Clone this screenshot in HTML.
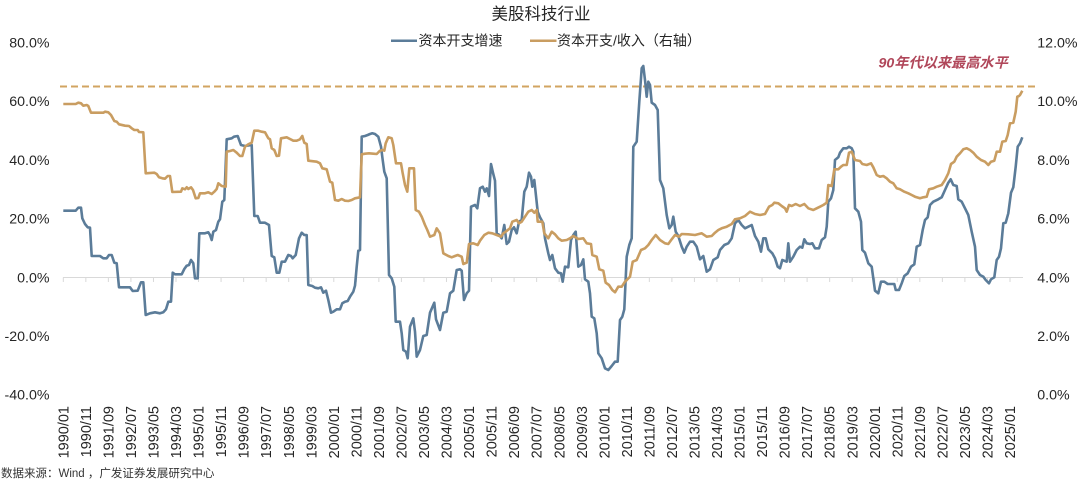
<!DOCTYPE html>
<html><head><meta charset="utf-8">
<style>
html,body{margin:0;padding:0;background:#fff;}
svg{display:block;}
text{font-family:"Liberation Sans","Noto Sans CJK SC",sans-serif;fill:#262626;}
</style></head>
<body>
<svg width="1080" height="482" viewBox="0 0 1080 482" xmlns="http://www.w3.org/2000/svg">
<rect width="1080" height="482" fill="#fff"/>
<!-- title -->
<text x="541" y="19.5" font-size="16.5" text-anchor="middle">美股科技行业</text>
<!-- legend -->
<line x1="391" y1="40.7" x2="417" y2="40.7" stroke="#5b7c99" stroke-width="2.5"/>
<text x="418.5" y="45.3" font-size="14">资本开支增速</text>
<line x1="530" y1="40.7" x2="556.5" y2="40.7" stroke="#c99d61" stroke-width="2.5"/>
<text x="557" y="45.3" font-size="14">资本开支/收入（右轴）</text>

<!-- left axis labels -->
<g font-size="14.2" text-anchor="end">
<text x="49.5" y="47.5">80.0%</text>
<text x="49.5" y="106.2">60.0%</text>
<text x="49.5" y="164.9">40.0%</text>
<text x="49.5" y="223.6">20.0%</text>
<text x="49.5" y="282.3">0.0%</text>
<text x="49.5" y="341">-20.0%</text>
<text x="49.5" y="399.7">-40.0%</text>
</g>
<!-- right axis labels -->
<g font-size="14.2" text-anchor="start">
<text x="1037.3" y="47.5">12.0%</text>
<text x="1037.3" y="106.2">10.0%</text>
<text x="1037.3" y="164.9">8.0%</text>
<text x="1037.3" y="223.6">6.0%</text>
<text x="1037.3" y="282.3">4.0%</text>
<text x="1037.3" y="341">2.0%</text>
<text x="1037.3" y="399.7">0.0%</text>
</g>

<!-- zero axis line + ticks -->
<line x1="63" y1="277.5" x2="1023" y2="277.5" stroke="#d9d9d9" stroke-width="1"/>
<path d="M63.3 277.5v4.5M85.84 277.5v4.5M108.38 277.5v4.5M130.92 277.5v4.5M153.46 277.5v4.5M176 277.5v4.5M198.54 277.5v4.5M221.08 277.5v4.5M243.62 277.5v4.5M266.16 277.5v4.5M288.7 277.5v4.5M311.24 277.5v4.5M333.78 277.5v4.5M356.32 277.5v4.5M378.86 277.5v4.5M401.4 277.5v4.5M423.94 277.5v4.5M446.48 277.5v4.5M469.02 277.5v4.5M491.56 277.5v4.5M514.1 277.5v4.5M536.64 277.5v4.5M559.18 277.5v4.5M581.72 277.5v4.5M604.26 277.5v4.5M626.8 277.5v4.5M649.34 277.5v4.5M671.88 277.5v4.5M694.42 277.5v4.5M716.96 277.5v4.5M739.5 277.5v4.5M762.04 277.5v4.5M784.58 277.5v4.5M807.12 277.5v4.5M829.66 277.5v4.5M852.2 277.5v4.5M874.74 277.5v4.5M897.28 277.5v4.5M919.82 277.5v4.5M942.36 277.5v4.5M964.9 277.5v4.5M987.44 277.5v4.5M1009.98 277.5v4.5" stroke="#d9d9d9" stroke-width="1" fill="none"/>

<!-- x labels -->
<g font-size="14.5" text-anchor="end">
<text transform="translate(63.3,406) rotate(-90)" dy="0.35em">1990/01</text>
<text transform="translate(85.84,406) rotate(-90)" dy="0.35em">1990/11</text>
<text transform="translate(108.38,406) rotate(-90)" dy="0.35em">1991/09</text>
<text transform="translate(130.92,406) rotate(-90)" dy="0.35em">1992/07</text>
<text transform="translate(153.46,406) rotate(-90)" dy="0.35em">1993/05</text>
<text transform="translate(176,406) rotate(-90)" dy="0.35em">1994/03</text>
<text transform="translate(198.54,406) rotate(-90)" dy="0.35em">1995/01</text>
<text transform="translate(221.08,406) rotate(-90)" dy="0.35em">1995/11</text>
<text transform="translate(243.62,406) rotate(-90)" dy="0.35em">1996/09</text>
<text transform="translate(266.16,406) rotate(-90)" dy="0.35em">1997/07</text>
<text transform="translate(288.7,406) rotate(-90)" dy="0.35em">1998/05</text>
<text transform="translate(311.24,406) rotate(-90)" dy="0.35em">1999/03</text>
<text transform="translate(333.78,406) rotate(-90)" dy="0.35em">2000/01</text>
<text transform="translate(356.32,406) rotate(-90)" dy="0.35em">2000/11</text>
<text transform="translate(378.86,406) rotate(-90)" dy="0.35em">2001/09</text>
<text transform="translate(401.4,406) rotate(-90)" dy="0.35em">2002/07</text>
<text transform="translate(423.94,406) rotate(-90)" dy="0.35em">2003/05</text>
<text transform="translate(446.48,406) rotate(-90)" dy="0.35em">2004/03</text>
<text transform="translate(469.02,406) rotate(-90)" dy="0.35em">2005/01</text>
<text transform="translate(491.56,406) rotate(-90)" dy="0.35em">2005/11</text>
<text transform="translate(514.1,406) rotate(-90)" dy="0.35em">2006/09</text>
<text transform="translate(536.64,406) rotate(-90)" dy="0.35em">2007/07</text>
<text transform="translate(559.18,406) rotate(-90)" dy="0.35em">2008/05</text>
<text transform="translate(581.72,406) rotate(-90)" dy="0.35em">2009/03</text>
<text transform="translate(604.26,406) rotate(-90)" dy="0.35em">2010/01</text>
<text transform="translate(626.8,406) rotate(-90)" dy="0.35em">2010/11</text>
<text transform="translate(649.34,406) rotate(-90)" dy="0.35em">2011/09</text>
<text transform="translate(671.88,406) rotate(-90)" dy="0.35em">2012/07</text>
<text transform="translate(694.42,406) rotate(-90)" dy="0.35em">2013/05</text>
<text transform="translate(716.96,406) rotate(-90)" dy="0.35em">2014/03</text>
<text transform="translate(739.5,406) rotate(-90)" dy="0.35em">2015/01</text>
<text transform="translate(762.04,406) rotate(-90)" dy="0.35em">2015/11</text>
<text transform="translate(784.58,406) rotate(-90)" dy="0.35em">2016/09</text>
<text transform="translate(807.12,406) rotate(-90)" dy="0.35em">2017/07</text>
<text transform="translate(829.66,406) rotate(-90)" dy="0.35em">2018/05</text>
<text transform="translate(852.2,406) rotate(-90)" dy="0.35em">2019/03</text>
<text transform="translate(874.74,406) rotate(-90)" dy="0.35em">2020/01</text>
<text transform="translate(897.28,406) rotate(-90)" dy="0.35em">2020/11</text>
<text transform="translate(919.82,406) rotate(-90)" dy="0.35em">2021/09</text>
<text transform="translate(942.36,406) rotate(-90)" dy="0.35em">2022/07</text>
<text transform="translate(964.9,406) rotate(-90)" dy="0.35em">2023/05</text>
<text transform="translate(987.44,406) rotate(-90)" dy="0.35em">2024/03</text>
<text transform="translate(1009.98,406) rotate(-90)" dy="0.35em">2025/01</text>
</g>

<!-- dashed reference line -->
<line x1="60" y1="86.5" x2="1039" y2="86.5" stroke="#d2a461" stroke-width="2" stroke-dasharray="7 4"/>
<text x="878.5" y="67.5" font-size="14.2" font-weight="bold" font-style="italic" style="fill:#b0475a">90年代以来最高水平</text>

<!-- blue series -->
<polyline fill="none" stroke="#5b7c99" stroke-width="2.6" stroke-linejoin="round" points="63.3,210.7 75.7,210.7 78.3,207.7 81,207.7 82.3,218.3 85,224 87.7,227.3 90,227.7 91.7,256 100,256 103.3,258.3 106.7,258.3 109,255 111.7,255 114.3,262.7 116.7,263.3 119,287.3 130,287.3 132.7,291 137.7,290.7 141,282.3 143.3,282.3 145.7,315 150,313.3 155,312.3 160,313.3 163.3,312.3 166,309.3 168.3,301.7 171,301.7 172.7,272.7 175,274.3 181.7,274.3 184.3,269 186.7,265.7 189,265 191,260 193.3,263.3 195,278.3 197.7,278.3 199.3,233.3 205,233.3 208.3,232.3 210,235 211.7,240 213.3,231.7 216,230 218.3,221.7 220,219.3 222.3,201.7 224.3,200 226.7,139.3 231.7,138.3 234,136.7 237.7,136 241,145 245,146 251.7,145 254.3,216 257.7,216 260,222.7 265,222.7 269,225 271.7,256 274.3,257.3 276.7,272.7 279.3,272.7 281.7,261.7 285,261.7 288.3,255 291,256 292.7,258.3 295.7,255 299,238.3 301.7,232.7 304.3,235 306.7,235 308.3,285 312.3,286 315,287.7 318.3,288.3 321,287.3 323.3,292.7 326,290.7 328.3,300 331,312.7 333.3,311.7 336.7,309.3 340,309.3 342.3,303.3 345,301.7 347.7,301 350,296.7 353.3,291.7 355,285.7 356.7,266.7 358.3,250.7 360,250 361.7,136.7 365,136 367.7,135 370,134 372.3,133.3 375,134 378.3,136.7 381,146.7 382.7,160 384.3,171.7 386.7,178.3 389,275 391.7,278.3 394.3,286.7 395.7,321.7 400,321.7 401.7,333.3 403.3,350 406,351.7 407.7,358.3 410,326.7 413.3,318.3 415,331.7 416.7,356.7 420,350 423.3,336 426.7,335 430,312.7 434.3,302.7 436,319.3 440,330 443.3,312.7 446.7,311.7 450,293.3 453.3,290.7 456.7,270 460,269.3 461.7,270.7 464,300 466.7,293.3 469,290.7 471,206.7 475,205 477.3,208.3 480,188.3 482.7,186.7 485,191.7 486.7,188.3 489,196 491,164 493.3,174 495,180.7 496.7,233.3 499.3,235 501.7,238.3 504.3,225 506.7,244 509,241.7 511.7,230 514,227.3 516.7,233.3 519,221.7 521.7,220 524.3,191.7 526.7,186.7 529,172.7 531,176.7 532.3,186.7 534.3,180 537.7,211.7 540,217.3 543.3,223.3 545,238.3 548.3,253.3 550,260 552.3,255 555,268.3 558.3,272.7 561,273.3 562.7,281.7 565,266.7 568.3,267.3 571,240 573.3,235 575.7,231.7 578.3,266.7 581,265 583.3,259.3 585,279.3 588.3,281.7 590,293.3 591.7,316.7 594.3,318.3 596.7,333.3 598.3,353.3 601.7,358.3 605,368.3 608.3,370 611.7,366 615,361.7 617.7,361.7 620,320 622.3,316.7 624.3,309.3 626.7,256.7 629.3,245 631.7,238.3 633.3,146.7 636.7,141.7 639.3,101.7 641.7,68.3 643.3,66 645,80 646.7,96.7 648.3,81.7 650,85 651.7,102.7 655,105 657.7,110 660,180 663.3,188.3 666.7,215 669.3,228.3 671.7,225 673.3,216.7 675.7,231.7 678.3,236 681.7,246.7 684.3,252.7 686.7,246.7 690,241.7 693.3,241.7 696.7,246.7 700,259.3 703.3,256 706.7,271.7 710,269.3 713.3,260 717.7,257.3 720,250 724.3,245 728.3,243.3 731.7,238.3 735,223.3 738.3,220 741.7,225 745,228.3 748.3,226.7 751.7,225 755,236 758.3,241.7 761,251.7 763.3,238.3 765.7,238.3 768.3,249.3 772.3,253.3 775,258.3 777.7,266.7 780,268.3 782.3,260 786.7,261.7 788.3,243.3 790,261.7 793.3,256.7 796.7,250 800,246.7 802.3,247.7 804.3,239.3 806.7,243.3 810,244 812.3,243.3 815,248.3 819,248.3 821.7,240 825,237.3 826.7,226.7 828.3,201.7 831,198.3 833.3,190 835,160 838.3,157.3 840,152.7 843.3,148.3 846.7,148.3 849,146.7 851.7,148.3 853.3,151.7 855,208.3 858.3,211.7 861,221.7 862.3,250 865,252.7 868.3,263.3 871.7,266.7 875,290.7 878.3,293.3 881,281.7 884.3,281.7 887.7,284 891.7,284 894.3,284 895.7,290 899,290 901.7,283.3 904.3,276 907.7,273.3 911,266.7 914.3,264.3 916.7,246.7 920,245 922.7,230 925,220 927.7,217.3 930,205 933.3,201.7 938.3,199.3 941.7,197.3 945,190 948.3,182.7 950.7,179.3 953.3,185 956.7,186 958.3,199.3 961.7,201.7 965,208.3 968.3,215 971.7,231.7 975,246.7 976.7,270 980,275 983.3,276.7 985.7,280 989,283.3 991,279.3 994.3,277.3 996.7,260 999,256.7 1001,248.3 1003.3,223.3 1005.7,222.7 1008.3,213.3 1011,192.7 1013.3,187.3 1015.7,166.7 1017.7,146.7 1020,143.3 1022.3,137.3"/>

<!-- orange series -->
<polyline fill="none" stroke="#c99d61" stroke-width="2.6" stroke-linejoin="round" points="63.3,104 75.7,104 78.3,102.7 81,103.3 83.3,105.7 86.7,105 88.3,106 91,112.7 103.3,112.7 105,111.7 108.3,112.3 111,115 114.3,121 116.7,121.7 119,124.3 125,125.7 129,126 131.7,128.3 134.3,130 137.7,130 139,132 143.3,132.3 145.7,173.3 154.3,172.7 156.7,174 159,177.3 162.3,178.3 165,178.7 167.7,176 170,176 172.3,192 181,191.7 182.3,188.3 185,189.3 186.7,187.3 188.3,189 191,187.3 193,190 195.7,198.3 198.3,198 200,193.3 205,193.3 208.3,192.3 211.7,194 214.3,191.7 216.7,189 218.3,183.3 221.7,186 225.7,186.7 226.7,151.7 230,151 233.3,150 236.7,152.7 240,156 242.3,156 245,146.7 248.3,144.3 251.7,142.7 254.3,130.7 258.3,130.7 261.7,131.7 265,132.3 268.3,138.3 270,139.3 271.7,148.3 274.3,150 276.7,156 279,155.7 281,138.3 286.7,137.3 290,139 293.3,140.7 296.7,140.7 300,139.3 302.3,136 304.3,142.7 306.7,144 308.3,160.7 316.7,161.7 320,163.3 322.3,168.3 326.7,169.3 330,181.7 332.3,182.7 335,200 338.3,200.7 341.7,199 345,200.7 348.3,201 351.7,200 355,198.3 360,197.3 361.7,154.3 365,153.7 369,153.3 373.3,153.7 376.7,154 380,150.7 382.3,150 384.3,150.7 385.7,143.3 388.3,137.3 391.7,138.3 393.3,145 396,163.3 401,163.3 402.7,173.3 405,185 407.3,191.7 409.3,168.3 414,168.3 415.7,210 419,211.7 421.7,216.7 425,225 427.3,230 430,236.7 434.3,235 436.7,228.3 440,233.3 443.3,253.3 448.3,256 451.7,257.3 455,256 457.7,255 461.7,256.7 463.3,264 466.7,262.7 469,244 473.3,243.3 477.7,245 480,240.7 484.3,235 488.3,232.7 492.3,233.3 496.7,235 501,236.7 503.3,233.3 505.7,231.7 510,228.3 512.3,221.7 516.7,220 519,223.3 521.7,221.7 525,216.7 528.3,211.7 531.7,210 534.3,212.7 536.7,210 537.7,221.7 542.3,221.7 544.3,233.3 548.3,238.3 551.7,231.7 555,234.3 558.3,238.3 561.7,240.7 566.7,240 570,238.3 573.3,236 578.3,239 583.3,238.3 586.7,243.3 591,244 592.3,255 596.7,256.7 599.3,269.3 603.3,270.7 605.7,282.7 609,285 612.3,290 615,292.3 618.3,286.7 621.7,286.7 625,281.7 630,276.7 632.7,261.7 636.7,260 641,250 645,248.3 648.3,245 651.7,240 655.7,235 660,240 665,243.3 668.3,244 671.7,239.3 675,235 679,236.7 681.7,234 688.3,234.3 695,235 701.7,233.3 706.7,236.7 711.7,236 715,232.7 718.3,230 721.7,228.3 726.7,226.7 731.7,224 735,219.3 740,218.3 745,216 750,211.7 755,214 760,215 765,214 769,206.7 772.3,205 774.3,202.7 778.3,203.3 781.7,206 785,208.3 786.7,211.7 789,205 791.7,206 795.7,204 800,206 804.3,204 808.3,208.3 813.3,210 816.7,208.3 820,206.7 823.3,205 826.7,202.7 828.3,185 831.7,186 834.3,169.3 838.3,169.3 841,166.7 843.3,165 846.7,165 849,152.7 851.7,151.7 855,160 860,161 862.3,164 866.7,165 871,163.3 873.3,167.3 876.7,175 880,176.7 883.3,176 886.7,178.3 890,181.7 893.3,183.3 896.7,188.3 900,189.3 904.3,191.7 908.3,193.3 911.7,195 915,196.7 920,198.3 923.3,197.3 926.7,196.7 929,189.3 933.3,188.3 936.7,186.7 941.7,185 945,180 948.3,173.3 951,164 954.3,161.7 956.7,156.7 960,153.3 963.3,149.3 966.7,148.3 970,150 973.3,152.7 976.7,156.7 981,160 985,161.7 988.3,165 991,161.7 994.3,160.7 996.7,151.7 1000,151.7 1002.3,141.7 1005.7,141 1007.7,135 1010,123.3 1013.3,122.7 1015.7,111.7 1017.3,96.7 1019,96 1020,95 1022.3,90.7"/>

<!-- source -->
<text x="1" y="477" font-size="11.5" style="fill:#333">数据来源：Wind ，广发证券发展研究中心</text>
</svg>
</body></html>
